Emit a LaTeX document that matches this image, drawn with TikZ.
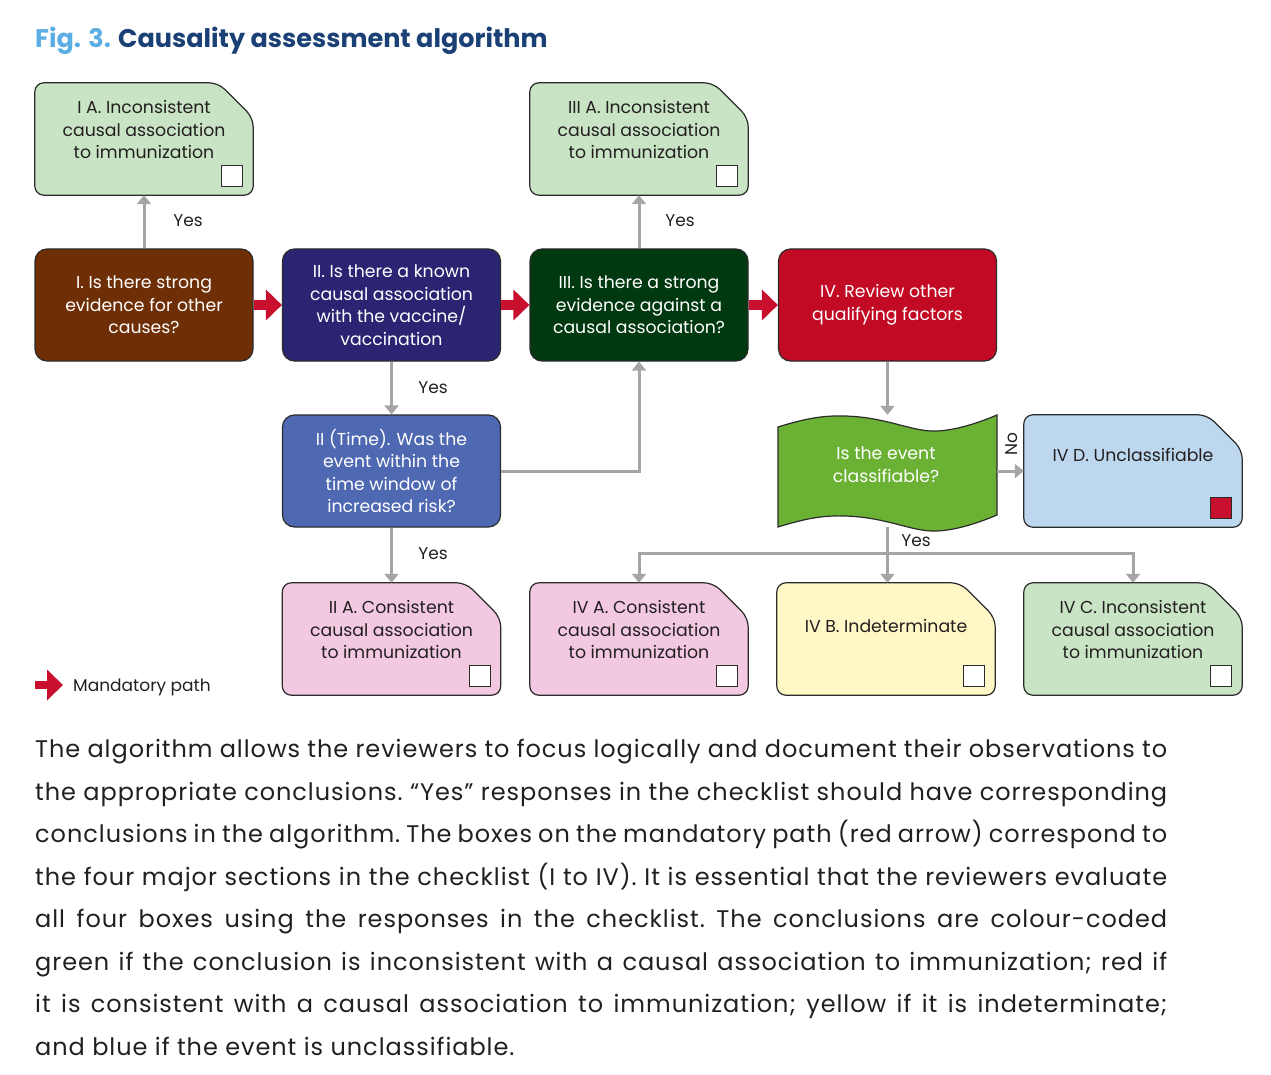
\documentclass[tikz,border=0pt]{standalone}
\usepackage{fontspec}
\setmainfont{Poppins}
\newfontfamily\parafont{Poppins}[LetterSpace=4]
\usetikzlibrary{arrows.meta}
\definecolor{lgreen}{HTML}{C9E4C5}
\definecolor{brownbox}{HTML}{6F2F06}
\definecolor{navybox}{HTML}{2A2472}
\definecolor{dgreenbox}{HTML}{00380F}
\definecolor{redbox}{HTML}{C20A24}
\definecolor{bluebox}{HTML}{4F68B2}
\definecolor{wavegreen}{HTML}{6BB234}
\definecolor{lblue}{HTML}{BDD7EE}
\definecolor{lpink}{HTML}{F2C9E1}
\definecolor{lyellow}{HTML}{FFF8C6}
\definecolor{figblue}{HTML}{5BAEE3}
\definecolor{titleblue}{HTML}{1A4076}
\definecolor{boxline}{HTML}{2B2B2B}
\definecolor{arrowgray}{HTML}{A5A5A5}
\definecolor{mandred}{HTML}{C8102E}
\definecolor{textdark}{HTML}{231F20}
\newcommand\boxfont{\fontsize{17.3}{22.5}\selectfont}
\newcommand\docbox[7]{%
  \node[ghost] (#1) at (#2,#3) {};
  \draw[docline, fill=#4] (#1.south west) -- (#1.north west) -- ([xshift=-35pt]#1.north east) -- ([yshift=-35pt]#1.north east) -- (#1.south east) -- cycle;
  \node[doctext] (#1t) at ([yshift=-#7pt]#1.north) {#5};
  \node[check, fill=#6, anchor=south east] (#1c) at ([xshift=-10pt,yshift=8pt]#1.south east) {};
}
\tikzset{
  base/.style={minimum width=218pt, minimum height=112pt, inner sep=0pt},
  ghost/.style={base, draw=none},
  decision/.style={base, rounded corners=12pt, draw=boxline, line width=1.2pt, text=white, align=center, font=\boxfont},
  docline/.style={draw=boxline, line width=1.2pt, rounded corners=9pt},
  doctext/.style={align=center, font=\boxfont, text=textdark, inner sep=0pt},
  check/.style={draw=boxline, line width=1pt, minimum size=21pt, inner sep=0pt},
  flow/.style={draw=arrowgray, line width=3pt, -{Triangle[width=14pt,length=9pt]}},
  mand/.style={draw=mandred, line width=10pt, -{Triangle[width=30pt,length=16pt]}},
  lbl/.style={font=\fontsize{17}{20}\selectfont, text=textdark, inner sep=0pt},
  para/.style={font=\parafont\fontsize{24}{30}\selectfont\frenchspacing, text=textdark, inner sep=0pt, anchor=base west},
}
\begin{document}
\begin{tikzpicture}[x=1pt, y=-1pt]
\useasboundingbox (0,0) rectangle (1271,1075);
% title
\node[anchor=base west, inner sep=0pt, font=\fontsize{25.5}{30}\selectfont\bfseries] (title) at (35,48)
  {\textcolor{figblue}{Fig. 3.} \textcolor{titleblue}{Causality assessment algorithm}};
% conclusion boxes
\docbox{IA}{144}{139}{lgreen}{I A. Inconsistent\\causal association\\to immunization}{white}{47}
\docbox{IIIA}{639}{139}{lgreen}{III A. Inconsistent\\causal association\\to immunization}{white}{47}
\docbox{IVD}{1133}{471}{lblue}{IV D. Unclassifiable}{mandred}{40}
\docbox{IIA}{391.5}{639}{lpink}{II A. Consistent\\causal association\\to immunization}{white}{47}
\docbox{IVA}{639}{639}{lpink}{IV A. Consistent\\causal association\\to immunization}{white}{47}
\docbox{IVB}{886}{639}{lyellow}{IV B. Indeterminate}{white}{43}
\docbox{IVC}{1133}{639}{lgreen}{IV C. Inconsistent\\causal association\\to immunization}{white}{47}
% decision boxes
\node[decision, fill=brownbox] (I) at (144,305) {I. Is there strong\\evidence for other\\causes?};
\node[decision, fill=navybox] (II) at (391.5,305) {II. Is there a known\\causal association\\with the vaccine/\\vaccination};
\node[decision, fill=dgreenbox] (III) at (639,305) {III. Is there a strong\\evidence against a\\causal association?};
\node[decision, fill=redbox] (IV) at (887.5,305) {IV. Review other\\qualifying factors};
\node[decision, fill=bluebox] (IIT) at (391.5,471) {II (Time). Was the\\event within the\\time window of\\increased risk?};
% wave
\node[ghost] (W) at (887.5,471) {};
\draw[draw=boxline, line width=1.2pt, fill=wavegreen]
  (778,427) .. controls (810,417) and (830,414) .. (860,417)
  .. controls (895,421) and (915,432) .. (937,431)
  .. controls (960,430) and (985,420) .. (997,415)
  -- (997,515)
  .. controls (985,520) and (960,530) .. (937,531)
  .. controls (915,532) and (895,521) .. (860,517)
  .. controls (830,514) and (810,517) .. (778,527) -- cycle;
\node[align=center, font=\boxfont, text=white, inner sep=0pt] (Wt) at (886,464.5) {Is the event\\classifiable?};
% mandatory arrows
\draw[mand] (I.east) -- (II.west);
\draw[mand] (II.east) -- (III.west);
\draw[mand] (III.east) -- (IV.west);
% flow arrows
\draw[flow] (I.north) -- (IA.south);
\node[lbl] (y1) at (188,221) {Yes};
\draw[flow] (III.north) -- (IIIA.south);
\node[lbl] (y2) at (680,221) {Yes};
\draw[flow] (II.south) -- (IIT.north);
\node[lbl] (y3) at (433,388) {Yes};
\draw[flow] (IIT.east) -| (III.south);
\draw[flow] (IIT.south) -- (IIA.north);
\node[lbl] (y4) at (433,554) {Yes};
\draw[flow] (IV.south) -- (W.north);
\draw[flow] (W.east) -- (IVD.west);
\node[lbl, rotate=90] (no) at (1012,444) {No};
\coordinate (br) at (887.5,553);
\draw[flow] (W.south) -- (W.south |- IVB.north);
\draw[flow] (br) -| (IVA.north);
\draw[flow] (br) -| (IVC.north);
\node[lbl] (y5) at (916,541) {Yes};
% legend
\coordinate (lg1) at (35,685);
\coordinate (lg2) at (63,685);
\draw[mand, line width=8pt] (lg1) -- (lg2);
\node[lbl, anchor=west] (lgt) at (73,687) {Mandatory path};
% paragraph
\node[para] (p1) at (35,757) {\makebox[1132pt][s]{The algorithm allows the reviewers to focus logically and document their observations to}};
\node[para] (p2) at (35,800) {\makebox[1132pt][s]{the appropriate conclusions. “Yes” responses in the checklist should have corresponding}};
\node[para] (p3) at (35,842) {\makebox[1132pt][s]{conclusions in the algorithm. The boxes on the mandatory path (red arrow) correspond to}};
\node[para] (p4) at (35,885) {\makebox[1132pt][s]{the four major sections in the checklist (I to IV). It is essential that the reviewers evaluate}};
\node[para] (p5) at (35,927) {\makebox[1132pt][s]{all four boxes using the responses in the checklist. The conclusions are colour-coded}};
\node[para] (p6) at (35,970) {\makebox[1132pt][s]{green if the conclusion is inconsistent with a causal association to immunization; red if}};
\node[para] (p7) at (35,1012) {\makebox[1132pt][s]{it is consistent with a causal association to immunization; yellow if it is indeterminate;}};
\node[para] (p8) at (35,1055) {and blue if the event is unclassifiable.};
\end{tikzpicture}
\end{document}
